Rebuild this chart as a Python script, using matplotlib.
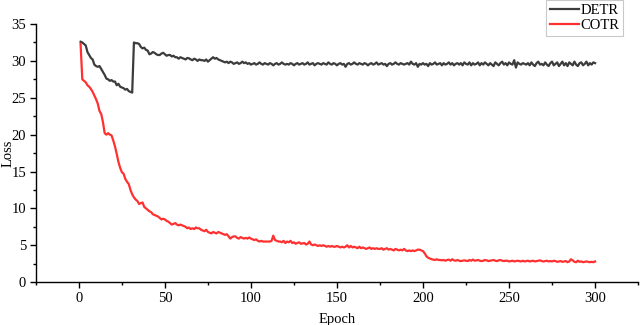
import numpy as np
import matplotlib
matplotlib.use("Agg")
import matplotlib.pyplot as plt
from matplotlib.ticker import MultipleLocator

plt.rcParams['font.family'] = ['Liberation Serif', 'DejaVu Serif']

# loss per epoch
detr = [
    32.6, 32.5, 32.3, 32.1, 31.2, 30.8, 30.4, 30.2, 29.5, 29.3,
    29.2, 29.3, 28.9, 28.5, 28.1, 27.6, 27.5, 27.3, 27.4, 27.2,
    27.2, 26.7, 26.9, 26.5, 26.4, 26.3, 26.1, 26.2, 25.9, 25.8,
    25.7, 32.5, 32.4, 32.4, 32.3, 31.9, 31.7, 31.8, 31.5, 31.4,
    30.9, 31.0, 31.2, 31.1, 30.9, 30.8, 30.8, 31.0, 31.1, 30.9,
    30.7, 30.8, 30.8, 30.6, 30.7, 30.5, 30.5, 30.3, 30.5, 30.4,
    30.3, 30.2, 30.4, 30.35, 30.2, 30.1, 30.3, 30.2, 30.0, 30.2,
    30.1, 30.1, 30.0, 30.2, 29.9, 30.1, 30.3, 30.5, 30.3, 30.4,
    30.2, 30.1, 30.0, 29.9, 29.8, 29.9, 29.7, 29.9, 29.8, 29.6,
    29.7, 29.8, 29.6, 29.7, 29.9, 29.7, 29.8, 29.6, 29.7, 29.5,
    29.6, 29.7, 29.5, 29.6, 29.8, 29.6, 29.5, 29.7, 29.6, 29.5,
    29.7, 29.6, 29.4, 29.6, 29.7, 29.5, 29.6, 29.8, 29.6, 29.5,
    29.6, 29.5, 29.7, 29.6, 29.4, 29.6, 29.7, 29.5, 29.6, 29.7,
    29.5, 29.6, 29.8, 29.5, 29.6, 29.7, 29.4, 29.6, 29.7, 29.6,
    29.5, 29.7, 29.6, 29.5, 29.8, 29.6, 29.5, 29.7, 29.6, 29.4,
    29.6, 29.7, 29.5, 29.6, 29.2, 29.6, 29.7, 29.5, 29.6, 29.8,
    29.6, 29.5, 29.7, 29.6, 29.5, 29.7, 29.6, 29.4, 29.6, 29.7,
    29.5, 29.6, 29.8, 29.5, 29.6, 29.7, 29.5, 29.6, 29.3, 29.6,
    29.7, 29.5, 29.6, 29.8, 29.6, 29.5, 29.7, 29.6, 29.5, 29.6,
    29.7, 29.5, 29.9, 29.6, 29.5, 29.7, 29.2, 29.6, 29.5, 29.7,
    29.5, 29.6, 29.3, 29.7, 29.5, 29.6, 29.8, 29.5, 29.6, 29.7,
    29.4, 29.7, 29.5, 29.6, 29.8, 29.5, 29.7, 29.4, 29.6, 29.7,
    29.5, 29.7, 29.4, 29.8, 29.6, 29.5, 29.8, 29.4, 29.7, 29.5,
    29.6, 29.8, 29.4, 29.7, 29.5, 29.8, 29.6, 29.4, 29.7, 29.5,
    29.3, 29.8, 29.6, 29.4, 29.7, 29.9, 29.5, 29.7, 29.4, 29.8,
    29.6, 29.5, 30.1, 29.1, 29.8, 29.6, 29.5, 29.7, 29.6, 29.5,
    29.7, 29.4, 29.8, 29.5, 29.3, 29.7, 29.9, 29.5, 29.6, 29.4,
    29.8, 29.5, 29.3, 29.7, 29.9, 29.4, 29.6, 29.8, 29.3, 29.6,
    29.9, 29.4, 29.7, 29.3, 29.8, 29.6, 29.4, 29.9, 29.5, 29.3,
    29.7, 29.8, 29.4, 29.6, 29.9, 29.4, 29.7, 29.5, 29.8, 29.7,
]
cotr = [
    32.3, 27.5, 27.3, 27.1, 26.7, 26.5, 26.2, 25.8, 25.3, 24.8,
    24.2, 23.2, 22.8, 21.7, 20.2, 20.0, 20.2, 20.0, 19.9, 19.2,
    18.4, 17.4, 16.3, 15.5, 14.9, 14.7, 14.0, 13.6, 13.3, 12.5,
    11.9, 11.5, 11.2, 11.0, 10.6, 10.7, 10.8, 10.2, 10.0, 9.8,
    9.6, 9.5, 9.2, 9.1, 9.0, 8.9, 8.7, 8.5, 8.6, 8.5,
    8.3, 8.2, 8.0, 7.8, 7.9, 8.0, 7.8, 7.7, 7.8, 7.7,
    7.6, 7.5, 7.3, 7.4, 7.2, 7.3, 7.2, 7.4, 7.3, 7.3,
    7.1, 7.0, 6.9, 7.1, 6.8, 6.7, 6.6, 6.8, 6.7, 6.6,
    6.8, 6.7, 6.6, 6.5, 6.4, 6.5, 6.2, 5.9, 6.1, 6.2,
    6.2, 6.0, 5.9, 6.1, 6.0, 5.9, 6.0, 5.9, 6.05, 5.9,
    5.8, 5.7, 5.8, 5.6, 5.5, 5.6, 5.5, 5.5, 5.5, 5.5,
    5.5, 5.6, 6.3, 5.7, 5.6, 5.5, 5.5, 5.4, 5.6, 5.3,
    5.5, 5.4, 5.6, 5.3, 5.4, 5.2, 5.3, 5.4, 5.2, 5.25,
    5.3, 5.1, 5.2, 5.5, 5.1, 5.0, 5.1, 5.0, 4.9, 5.0,
    4.9, 5.0, 4.9, 4.8, 4.9, 4.8, 4.9, 4.8, 4.8, 4.9,
    4.8, 4.7, 4.8, 4.7, 4.8, 5.0, 4.7, 4.9, 4.7, 4.8,
    4.7, 4.6, 4.8, 4.6, 4.7, 4.6, 4.5, 4.6, 4.7, 4.5,
    4.6, 4.5, 4.6, 4.5, 4.5, 4.6, 4.4, 4.5, 4.6, 4.4,
    4.5, 4.4, 4.3, 4.5, 4.4, 4.3, 4.4, 4.3, 4.5, 4.3,
    4.2, 4.3, 4.2, 4.3, 4.2, 4.3, 4.4, 4.4, 4.3, 4.2,
    3.9, 3.5, 3.3, 3.2, 3.1, 3.05, 3.0, 3.1, 3.0, 3.0,
    2.95, 3.0, 2.9, 3.0, 3.05, 2.9, 3.1, 2.95, 2.9, 3.0,
    2.9, 2.85, 2.9, 2.95, 2.9, 2.85, 3.0, 2.9, 3.05, 2.9,
    2.95, 3.0, 2.9, 2.85, 2.9, 3.0, 2.95, 2.85, 2.9, 2.95,
    3.0, 2.9, 2.85, 2.95, 3.0, 2.9, 2.85, 2.9, 2.9, 2.8,
    2.85, 2.9, 2.8, 2.85, 2.9, 2.85, 2.8, 2.9, 2.8, 2.85,
    2.9, 2.8, 2.85, 2.9, 2.8, 2.85, 2.9, 2.95, 2.85, 2.8,
    2.85, 2.9, 2.8, 2.85, 2.8, 2.9, 2.85, 2.75, 2.8, 2.85,
    2.75, 2.8, 2.85, 2.7, 2.8, 3.1, 2.95, 2.75, 2.7, 2.9,
    2.75, 2.8, 2.7, 2.75, 2.8, 2.75, 2.7, 2.75, 2.7, 2.8,
]
epochs = np.arange(1, len(detr) + 1)

fig = plt.figure(figsize=(6.4, 3.25), dpi=100)
ax = fig.add_axes([0.056, 0.132, 0.941, 0.794])

ax.plot(epochs, detr, color='#3c3c3c', lw=1.6, label='DETR')
ax.plot(epochs, cotr, color='#ff3030', lw=1.6, label='COTR')

ax.set_xlim(-25, 325)
ax.set_ylim(0, 35)
ax.xaxis.set_major_locator(MultipleLocator(50))
ax.xaxis.set_minor_locator(MultipleLocator(25))
ax.yaxis.set_major_locator(MultipleLocator(5))
ax.yaxis.set_minor_locator(MultipleLocator(2.5))
ax.tick_params(which='major', direction='out', length=4, width=1, labelsize=10.5, pad=3)
ax.tick_params(which='minor', direction='out', length=2.5, width=1)

for s in ['top', 'right']:
    ax.spines[s].set_visible(False)
for s in ['left', 'bottom']:
    ax.spines[s].set_linewidth(1)

ax.set_xlabel('Epoch', fontsize=10.5)
ax.set_ylabel('Loss', fontsize=10.5)
ax.xaxis.set_label_coords(0.5, -0.12)
ax.yaxis.set_label_coords(-0.036, 0.5)

leg = ax.legend(loc='upper right', bbox_to_anchor=(0.973, 1.0),
                bbox_transform=fig.transFigure, fontsize=10.5, frameon=True,
                fancybox=False, edgecolor='#bbbbbb', handlelength=2.0,
                handletextpad=0.1, borderpad=0.25, labelspacing=0.15,
                borderaxespad=0)
leg.get_frame().set_linewidth(0.8)

fig.savefig('out.png', dpi=100)
